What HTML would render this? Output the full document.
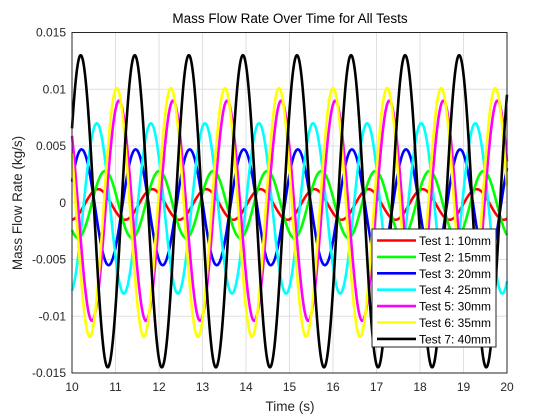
<!DOCTYPE html>
<html><head><meta charset="utf-8"><style>
body{margin:0;background:#fff;}
svg{display:block;font-family:"Liberation Sans",Arial,sans-serif;}
</style></head><body>
<svg id="chart" width="560" height="420" viewBox="0 0 560 420">
<rect width="560" height="420" fill="#fff"/>
<g id="grid"></g>
<g id="series"></g>
<rect x="72" y="32.5" width="435" height="340.5" fill="none" stroke="#262626" stroke-width="1"/>
<g id="ticks"></g>
<text x="290" y="23" font-size="13.5" text-anchor="middle" fill="#000">Mass Flow Rate Over Time for All Tests</text>
<text x="290" y="411" font-size="13.5" text-anchor="middle" fill="#262626">Time (s)</text>
<text transform="translate(22,203) rotate(-90)" font-size="13.5" text-anchor="middle" fill="#262626">Mass Flow Rate (kg/s)</text>
<g id="legend"></g>
</svg>
<script>
const labels=["Test 1: 10mm","Test 2: 15mm","Test 3: 20mm","Test 4: 25mm","Test 5: 30mm","Test 6: 35mm","Test 7: 40mm"];
const colors=["#ff0000","#00ff00","#0000ff","#00ffff","#ff00ff","#ffff00","#000000"];
const peaks=[0.0012,0.0028,0.0047,0.0070,0.0090,0.0101,0.0130];
const troughs=[-0.0015,-0.0031,-0.0055,-0.0080,-0.0104,-0.0118,-0.0145];
const peakTimes=[10.6,10.76,10.22,10.57,11.08,11.03,10.2];
const periods=[1.243,1.243,1.243,1.243,1.243,1.243,1.243];
const xTicks=[10,11,12,13,14,15,16,17,18,19,20];
const yTicks=[-0.015,-0.01,-0.005,0,0.005,0.01,0.015];
const yTickLabels=["-0.015","-0.01","-0.005","0","0.005","0.01","0.015"];
const X0=72,X1=507,Y0=373,Y1=32.5;
const xs=t=>X0+(t-10)/10*(X1-X0);
const ys=v=>Y0-(v+0.015)/0.03*(Y0-Y1);
const NS="http://www.w3.org/2000/svg";
function mk(tag,attrs,parent){const e=document.createElementNS(NS,tag);for(const k in attrs)e.setAttribute(k,attrs[k]);parent.appendChild(e);return e;}
const grid=document.getElementById('grid'),ticks=document.getElementById('ticks');
xTicks.forEach((t,i)=>{
 const g=mk('line',{x1:xs(t),x2:xs(t),y1:Y0,y2:Y1,stroke:'#dfdfdf','stroke-width':1},grid);
 
 
 const l=mk('text',{x:xs(t),y:Y0+18,'font-size':12,'text-anchor':'middle',fill:'#262626'},ticks);
 l.textContent=t;
 
 
});
yTicks.forEach((v,i)=>{
 const g=mk('line',{x1:X0,x2:X1,y1:ys(v),y2:ys(v),stroke:'#dfdfdf','stroke-width':1},grid);
 
 
 const l=mk('text',{x:X0-6,y:ys(v)+4,'font-size':12,'text-anchor':'end',fill:'#262626'},ticks);
 l.textContent=yTickLabels[i];
 
 
});
const sg=document.getElementById('series');
for(let s=0;s<labels.length;s++){
 const amp=(peaks[s]-troughs[s])/2,off=(peaks[s]+troughs[s])/2;
 let d='';
 for(let i=0;i<=870;i++){const t=10+i/87;const v=off+amp*Math.cos(2*Math.PI*(t-peakTimes[s])/periods[s]);
  d+=(i?'L':'M')+xs(t).toFixed(2)+','+ys(v).toFixed(2);}
 const p=mk('path',{d:d,fill:'none',stroke:colors[s],'stroke-width':2.6,'stroke-linejoin':'round'},sg);
 
 
}
const lg=document.getElementById('legend');
const box=mk('rect',{x:372,y:229,width:124,height:118,fill:'#fff',stroke:'#262626','stroke-width':1},lg);


labels.forEach((lab,i)=>{
 const y=240.5+i*16.4;
 const ln=mk('line',{x1:377,x2:416,y1:y,y2:y,stroke:colors[i],'stroke-width':2.6},lg);
 
 
 const tx=mk('text',{x:419,y:y+4.5,'font-size':12,fill:'#000'},lg);
 tx.textContent=lab;
 
 
});
</script>
</body></html>
